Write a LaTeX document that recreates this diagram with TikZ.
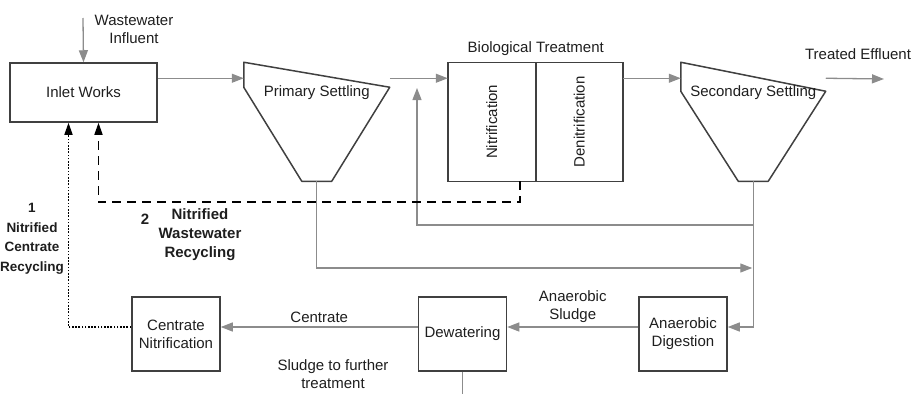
\documentclass[tikz,border=0pt]{standalone}
\usepackage{fontspec}
\setmainfont{Liberation Sans}
\usetikzlibrary{positioning, arrows.meta}
\definecolor{boxgray}{HTML}{404040}
\definecolor{flowgray}{HTML}{8C8C8C}
\definecolor{inkgray}{HTML}{1E1E1E}
\tikzset{
    box/.style = {draw = boxgray, line width = 1.5pt, align = center, minimum width = 88pt, minimum height = 74pt, inner sep = 2pt},
    cell/.style = {draw = boxgray, line width = 1.5pt, minimum height = 119pt, inner sep = 0pt, outer sep = 0pt},
    tank/.style = {minimum width = 146pt, minimum height = 119pt, inner sep = 0pt, outer sep = 0pt},
    funnel/.style = {draw = boxgray, line width = 1.5pt, line join = round},
    flow/.style = {draw = flowgray, line width = 1.3pt, -{Triangle[length = 12pt, width = 9pt]}},
    pipe/.style = {draw = flowgray, line width = 1.3pt},
    nwr/.style = {draw = black, line width = 1.6pt, dash pattern = on 9pt off 6pt, -{Triangle[length = 12pt, width = 8pt]}},
    ncr/.style = {draw = black, line width = 1.6pt, dash pattern = on 1.6pt off 1.6pt, -{Triangle[length = 12pt, width = 8pt]}},
    note/.style = {align = center, inner sep = 2pt},
    tag/.style = {align = center, font = \fontsize{15}{19}\selectfont\bfseries}
}
\begin{document}
\begin{tikzpicture}
        [
            x = 1pt, y = -1pt,
            font = \fontsize{15}{18}\selectfont,
            text = inkgray
        ]
        \useasboundingbox (0,0) rectangle (914,394);
        % top row
        \node[box, minimum width = 147pt, minimum height = 59pt]        (inlet)     at (83.5,92.5) {Inlet Works};
        \node[tank, right = 86pt of inlet.north east, anchor = north west] (primary)   {};
        \node[cell, minimum width = 88pt, right = 58pt of primary.north east, anchor = north west] (nitri) {\rotatebox{90}{Nitrification}};
        \node[cell, minimum width = 87pt, right = 0pt of nitri]         (denitri)   {\rotatebox{90}{Denitrification}};
        \node[tank, minimum width = 145pt, right = 58pt of denitri.north east, anchor = north west] (secondary) {};
        % funnels
        \draw[funnel] (primary.north west) -- ++(0,25) -- ([xshift=-15pt]primary.south) -- ([xshift=15pt]primary.south) -- ([yshift=-25pt]primary.north east) -- cycle;
        \draw[funnel] (secondary.north west) -- ++(0,29) -- ([xshift=-15pt]secondary.south) -- ([xshift=15pt]secondary.south) -- ([yshift=-29pt]secondary.north east) -- cycle;
        \node (primaryText)   at ([yshift=-30pt]primary.north)   {Primary Settling};
        \node (secondaryText) at ([yshift=-30pt]secondary.north) {Secondary Settling};
        \node[anchor = south] (bioLabel) at ([yshift=3pt]nitri.north east) {Biological Treatment};
        % bottom row
        \node[box]                          (centrate)  at (176,334) {Centrate\\Nitrification};
        \node[box, right = 197pt of centrate] (dewater)   {Dewatering};
        \node[box, right = 131pt of dewater]  (digestion) {Anaerobic\\Digestion};
        % free ends
        \coordinate (influent) at (83,18);
        \coordinate (effluent) at (884,79);
        \coordinate (rasY)     at (0,225);
        \coordinate (rasIn)    at (417,88);
        \coordinate (psY)      at (0,268);
        % labels
        \node[note] (influentLabel) at (134,29)  {Wastewater\\Influent};
        \node[note] (effluentLabel) at (858,54)  {Treated Effluent};
        \node[note] (sludgeLabel)   at (333,374) {Sludge to further\\treatment};
        \node[tag, font = \fontsize{13.5}{19.5}\selectfont\bfseries] (ncrLabel) at (32,239) {1\\Nitrified\\Centrate\\Recycling};
        \node[tag]  (nwrNum)        at (145,219) {2};
        \node[tag]  (nwrLabel)      at (200,235) {Nitrified\\Wastewater\\Recycling};
        % arrows
        \draw[flow]  (influent) -- (inlet.north);
        \draw[flow]  ([yshift=-16pt]inlet.north east)     -- ([yshift=-16pt]primary.north west);
        \draw[flow]  ([yshift=-16pt]primary.north east)   -- ([yshift=-16pt]nitri.north west);
        \draw[flow]  ([yshift=-16pt]denitri.north east)   -- ([yshift=-16pt]secondary.north west);
        \draw[flow]  ([yshift=-16pt]secondary.north east) -- (effluent);
        \draw[flow]  (secondary.south) |- ([yshift=7pt]digestion.east);
        \draw[flow]  (secondary.south |- rasY) -| (rasIn);
        \draw[flow]  (primary.south) |- ([xshift=-1pt]secondary.south |- psY);
        \draw[flow]  ([yshift=7pt]digestion.west) -- node[above, align = center] {Anaerobic\\Sludge} ([yshift=7pt]dewater.east);
        \draw[flow]  ([yshift=7pt]dewater.west)   -- node[above] {Centrate} ([yshift=7pt]centrate.east);
        \draw[pipe]  (dewater.south) -- ++(0,24);
        \draw[nwr]   ([xshift=28pt]nitri.south) -- ++(0,21) -| ([xshift=15pt]inlet.south);
        \draw[ncr]   ([yshift=7pt]centrate.west) -| ([xshift=-15pt]inlet.south);
    \end{tikzpicture}
\end{document}
